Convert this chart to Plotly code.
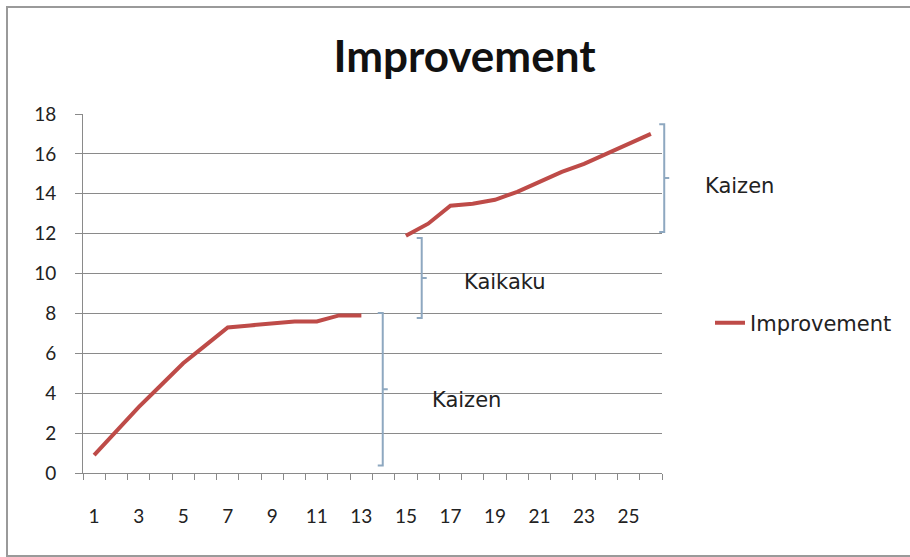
import plotly.graph_objects as go

# ---- data ----
categories = list(range(1, 27))
improvement = [0.9, 2.1, 3.3, 4.4, 5.5, 6.4, 7.3, 7.4, 7.5, 7.6, 7.6, 7.9, 7.9,
               None,
               11.9, 12.5, 13.4, 13.5, 13.7, 14.1, 14.6, 15.1, 15.5, 16.0, 16.5, 17.0]
x_tick_labels = [str(v) for v in range(1, 27, 2)]
y_tick_values = list(range(0, 19, 2))

# brackets: (category x, y bottom, y top)
bracket_x = [13.96, 15.71, 26.6]
bracket_lo = [0.37, 7.77, 12.08]
bracket_hi = [8.02, 11.78, 17.49]

# labels: (text, category x, y)
label_text = ["Kaizen", "Kaikaku", "Kaizen"]
label_x = [17.7, 19.45, 30.0]
label_y = [3.67, 9.59, 14.38]

W, H = 910, 557
PLOT_L, PLOT_R, PLOT_T, PLOT_B = 83.3, 661.7, 114.3, 473.3
ML = round(PLOT_L)
MR = round(W - PLOT_R)
MT = round(PLOT_T)
MB = round(H - PLOT_B)
plot_w = W - ML - MR
plot_h = H - MT - MB
n_cat = len(categories)


def cat_to_paper(c):
    return (c - 0.5) / n_cat


def px_to_paper_x(px):
    return (px - ML) / plot_w


def px_to_paper_y(py):
    return 1 - (py - MT) / plot_h


GRID = "#8a8a8a"
BRACKET = "#8ea8c0"

fig = go.Figure()
fig.add_trace(go.Scatter(
    x=categories, y=improvement, mode="lines", name="Improvement",
    line=dict(color="#be4b48", width=4), connectgaps=False,
))

shapes = []
serif = 5 / plot_w
for bx, lo, hi in zip(bracket_x, bracket_lo, bracket_hi):
    px = cat_to_paper(bx)
    mid = (lo + hi) / 2
    path = (f"M{px - serif},{hi} L{px},{hi} L{px},{lo} L{px - serif},{lo} "
            f"M{px},{mid} L{px + serif},{mid}")
    shapes.append(dict(type="path", path=path, xref="paper", yref="y",
                       line=dict(color=BRACKET, width=2)))

# outer chart border
shapes.append(dict(type="rect", xref="paper", yref="paper",
                   x0=px_to_paper_x(7), x1=px_to_paper_x(1000),
                   y0=px_to_paper_y(556), y1=px_to_paper_y(7),
                   line=dict(color="#9a9a9a", width=2)))

annotations = []
for t, lx, ly in zip(label_text, label_x, label_y):
    annotations.append(dict(text=t, x=cat_to_paper(lx), y=ly, xref="paper", yref="y",
                            showarrow=False, xanchor="center", yanchor="middle",
                            font=dict(family="DejaVu Sans", size=21, color="#222222")))

fig.update_layout(
    width=W, height=H,
    margin=dict(l=ML, r=MR, t=MT, b=MB),
    paper_bgcolor="white", plot_bgcolor="white",
    title=dict(text="<b>Improvement</b>", x=464.5 / W, xref="container", xanchor="center",
               y=1 - 57 / H, yref="container", yanchor="middle",
               font=dict(family="Lato", size=44, color="#111111")),
    showlegend=True,
    legend=dict(x=px_to_paper_x(710), y=px_to_paper_y(323),
                xanchor="left", yanchor="middle", bgcolor="rgba(0,0,0,0)",
                font=dict(family="DejaVu Sans", size=21, color="#222222")),
    shapes=shapes,
    annotations=annotations,
    font=dict(family="DejaVu Sans", color="#222222"),
)

fig.update_xaxes(
    range=[0.5, 26.5], tickmode="array", tickvals=list(range(1, 27, 2)),
    ticktext=x_tick_labels, ticks="", showgrid=False, zeroline=False,
    showline=True, linecolor=GRID, linewidth=1,
    ticklabelstandoff=26,
    tickfont=dict(family="Lato", size=19, color="#222222"),
    minor=dict(ticks="outside", tick0=0.5, dtick=1, ticklen=6, tickcolor=GRID,
               tickwidth=1, showgrid=False),
)
fig.update_yaxes(
    range=[0, 18], tickmode="array", tickvals=y_tick_values,
    ticks="outside", ticklen=7, tickcolor=GRID, tickwidth=1,
    showgrid=True, gridcolor=GRID, gridwidth=1, zeroline=False,
    showline=True, linecolor=GRID, linewidth=1,
    ticklabelstandoff=15,
    tickfont=dict(family="Lato", size=19, color="#222222"),
)

fig.write_html("out.html", config={"displayModeBar": False},
               post_script="document.body.style.margin='0';")
